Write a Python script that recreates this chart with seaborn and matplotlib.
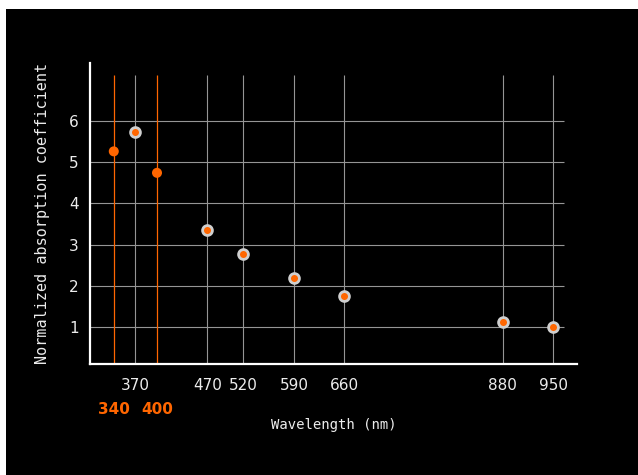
import matplotlib
matplotlib.use("Agg")
import matplotlib.pyplot as plt
import matplotlib.patches as mpatches
import seaborn as sns
import pandas as pd

# Measured absorption at each LED wavelength
wavelengths = [340, 370, 400, 470, 520, 590, 660, 880, 950]
absorption = [5.26, 5.74, 4.74, 3.35, 2.77, 2.20, 1.75, 1.13, 1.01]
highlighted = [340, 400]
y_ticks = [1, 2, 3, 4, 5, 6]

ORANGE = "#ff6600"
GRID = "#959595"
TEXT = "#ececec"

df = pd.DataFrame({"wavelength": wavelengths, "absorption": absorption})
df["highlight"] = df["wavelength"].isin(highlighted)
regular_wl = [w for w in wavelengths if w not in highlighted]

sns.set_theme(style="dark")
plt.rcParams["font.family"] = ["DejaVu Sans"]

fig = plt.figure(figsize=(6.38, 4.75), dpi=100, facecolor="white")
fig.patches.append(mpatches.Rectangle((6 / 638, 0), 1, 1 - 9 / 475,
                                      transform=fig.transFigure,
                                      facecolor="black", edgecolor="none",
                                      zorder=-10))
ax = fig.add_axes([90 / 638, 1 - 364 / 475, 487 / 638, 301 / 475])
ax.set_facecolor("black")
ax.patch.set_alpha(0)

ax.set_xlim(307, 983)
ax.set_ylim(0.11, 7.4)

# Partial grid lines
ax.hlines(y_ticks, 307, 965, color=GRID, lw=0.8, zorder=1)
ax.vlines(regular_wl, 0.11, 7.1, color=GRID, lw=0.8, zorder=1)
ax.vlines(highlighted, 0.11, 7.1, color=ORANGE, lw=0.9, zorder=1)

# Data points
sns.scatterplot(data=df[~df["highlight"]], x="wavelength", y="absorption",
                ax=ax, s=50, color=ORANGE, edgecolor="#cfcfcf",
                linewidth=2.0, zorder=3, legend=False)
sns.scatterplot(data=df[df["highlight"]], x="wavelength", y="absorption",
                ax=ax, s=52, color=ORANGE, edgecolor="none",
                linewidth=0, zorder=3, legend=False)

# Axes styling
for side in ("top", "right"):
    ax.spines[side].set_visible(False)
for side in ("left", "bottom"):
    ax.spines[side].set_visible(True)
    ax.spines[side].set_color("white")
    ax.spines[side].set_linewidth(1.6)

ax.set_xticks(regular_wl)
ax.set_xticklabels([str(w) for w in regular_wl])
ax.set_xticks(highlighted, minor=True)
ax.set_xticklabels([str(w) for w in highlighted], minor=True)
ax.set_yticks(y_ticks)
ax.set_yticklabels([str(v) for v in y_ticks])

ax.tick_params(axis="x", which="major", length=0, pad=10,
               labelcolor=TEXT, labelsize=11)
ax.tick_params(axis="x", which="minor", length=0, pad=27,
               labelcolor=ORANGE, labelsize=11)
for t in ax.get_xticklabels(minor=True):
    t.set_fontweight("bold")
ax.tick_params(axis="y", length=0, pad=8, labelcolor=TEXT, labelsize=11)

ax.set_xlabel("Wavelength (nm)", color=TEXT, fontsize=10,
              family="DejaVu Sans Mono", va="top")
ax.xaxis.set_label_coords(0.5, -0.178)
ax.set_ylabel("Normalized absorption coefficient", color=TEXT,
              fontsize=10.9, family="DejaVu Sans Mono")
ax.yaxis.set_label_coords(-0.083, 0.5)
ax.grid(False)

fig.savefig("out.png", dpi=100, facecolor="white")
